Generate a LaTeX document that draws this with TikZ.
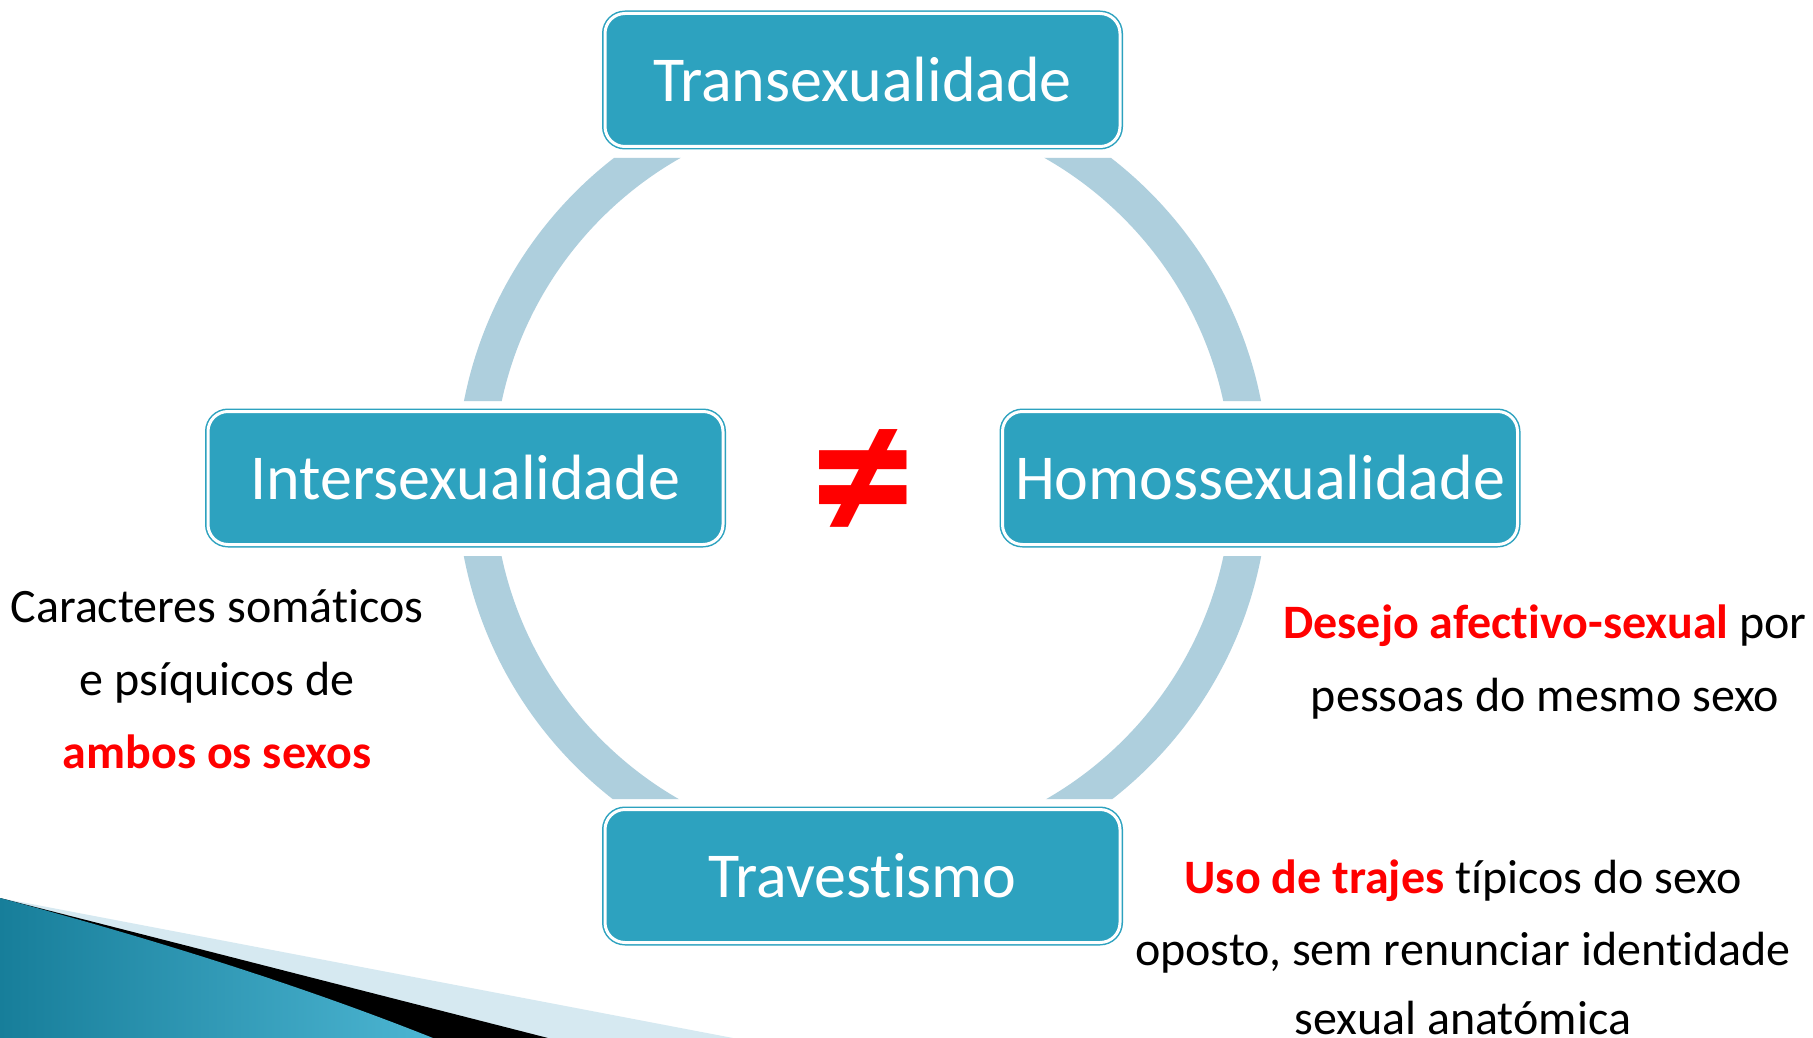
\documentclass[tikz,border=0pt]{standalone}
\usepackage{fontspec}
\setmainfont[Ligatures=NoCommon]{Carlito}
\definecolor{boxblue}{HTML}{2DA2BF}
\definecolor{ringblue}{HTML}{AECFDD}
\definecolor{lightband}{HTML}{D6E9F1}
\definecolor{tealdark}{HTML}{177E9A}
\definecolor{teallight}{HTML}{4CB5D2}
\definecolor{hot}{HTML}{FF0000}
\begin{document}
\begin{tikzpicture}[x=1pt,y=-1pt,
  box/.style={rounded corners=20pt, draw=boxblue, double=white, line width=1.5pt,
    double distance=3pt, fill=boxblue, minimum width=515pt, minimum height=133pt,
    text=white, font=\fontsize{64}{70}\selectfont, inner sep=0pt},
  side/.style={anchor=base, font=\fontsize{48}{56}\selectfont, inner sep=0pt}]
\fill[white] (0,0) rectangle (1813,1038);
\useasboundingbox (0,0) rectangle (1813,1038);
% swoosh bottom-left
\fill[lightband] (0,898) -- (733,1038) -- (0,1038) -- cycle;
\fill[black] (0,898) -- (548,1038) -- (0,1038) -- cycle;
\shade[left color=tealdark, right color=teallight]
  (0,898) .. controls (150,938) and (300,985) .. (433,1038) -- (0,1038) -- cycle;
% ring
\begin{scope}
  \clip (0,158) rectangle (1813,401) (0,556) rectangle (1813,799);
  \draw[ringblue, line width=37pt] (862.5,479) circle (387.5);
\end{scope}
% boxes
\node[box] (trans) at (862.5,80) {Transexualidade};
\node[box] (inter) at (465.5,478) {Intersexualidade};
\node[box] (homo) at (1260,478) {Homossexualidade};
\node[box] (trav) at (862.5,876) {Travestismo};
% not equal
\node[text=hot, font=\fontsize{208}{208}\selectfont\bfseries, inner sep=0pt] (neq) at (863,487) {≠};
% left text
\node[side] (l1) at (217,622) {Caracteres somáticos};
\node[side] (l2) at (217,695) {e psíquicos de};
\node[side, text=hot, font=\fontsize{48}{56}\selectfont\bfseries] (l3) at (217,768) {ambos os sexos};
% right text
\node[side] (r1) at (1545,638) {\textcolor{hot}{\bfseries Desejo afectivo-sexual} por};
\node[side] (r2) at (1545,711) {pessoas do mesmo sexo};
% bottom right text
\node[side] (b1) at (1463,893) {\textcolor{hot}{\bfseries Uso de trajes} típicos do sexo};
\node[side] (b2) at (1463,965) {oposto, sem renunciar identidade};
\node[side] (b3) at (1463,1034) {sexual anatómica};
\end{tikzpicture}
\end{document}
